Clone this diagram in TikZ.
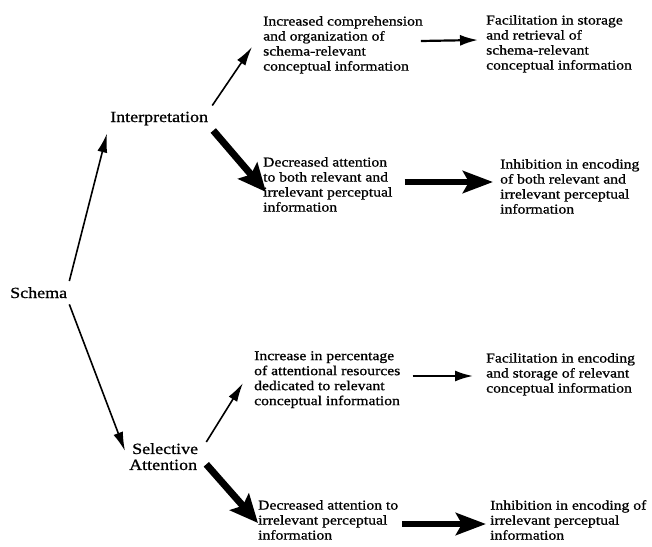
\documentclass[tikz,border=0pt]{standalone}
\usepackage{fontspec}
\setmainfont[FakeStretch=1.16,FakeBold=0.9]{Liberation Serif}
\usetikzlibrary{arrows.meta}
\begin{document}
\begin{tikzpicture}[x=1pt,y=-1pt,
  body/.style={font=\fontsize{13.5}{15}\selectfont, align=left, inner sep=0pt, anchor=north west},
  mainlbl/.style={font=\fontsize{15.5}{16}\selectfont, align=left, inner sep=0pt},
  thinarrow/.style={line width=1.6pt, -{Latex[length=19pt,width=10pt]}},
  smallarrow/.style={line width=2.2pt, -{Latex[length=18pt,width=11pt]}},
  heavyarrow/.style={line width=7pt, -{Stealth[length=28pt,width=25pt,inset=5pt]}},
  heavyharrow/.style={line width=6.5pt, -{Stealth[length=30pt,width=22pt,inset=6pt]}}]
\path[use as bounding box] (0,0) rectangle (652,546);

% main labels
\node[mainlbl, anchor=base west] (schema) at (10,298) {Schema};
\node[mainlbl, anchor=base west] (interp) at (110,122) {Interpretation};
\node[mainlbl, anchor=north west] (sel) at (129,443) {\hspace*{3pt}Selective\\Attention};

% outcome texts
\node[body] (a1) at (263,16) {Increased comprehension\\and organization of\\schema-relevant\\conceptual information};
\node[body] (a2) at (486,15) {Facilitation in storage\\and retrieval of\\schema-relevant\\conceptual information};
\node[body] (b1) at (263,157) {Decreased attention\\to both relevant and\\irrelevant perceptual\\information};
\node[body] (b2) at (500,159) {Inhibition in encoding\\of both relevant and\\irrelevant perceptual\\information};
\node[body] (c1) at (254,351) {Increase in percentage\\of attentional resources\\dedicated to relevant\\conceptual information};
\node[body] (c2) at (486,353) {Facilitation in encoding\\and storage of relevant\\conceptual information};
\node[body] (d1) at (258,500) {Decreased attention to\\irrelevant perceptual\\information};
\node[body] (d2) at (490,500) {Inhibition in encoding of\\irrelevant perceptual\\information};

% connectors
\draw[thinarrow] ([shift={(2,-6)}]schema.north east) -- ([shift={(-3,8)}]interp.south west);
\draw[thinarrow] ([shift={(2,6)}]schema.south east) -- ([shift={(-4,8)}]sel.north west);
\draw[thinarrow] ([shift={(4,-6)}]interp.north east) -- ([shift={(-11,31)}]a1.north west);
\draw[heavyarrow] ([shift={(5,5)}]interp.south east) -- ([shift={(3,35)}]b1.north west);
\draw[smallarrow] ([shift={(-2,25)}]a1.north east) -- ([shift={(-8,25)}]a2.north west);
\draw[heavyharrow] ([shift={(12,25)}]b1.north east) -- ([shift={(-7,23)}]b2.north west);
\draw[thinarrow] ([shift={(8,-1)}]sel.north east) -- ([shift={(-11,32)}]c1.north west);
\draw[heavyarrow] ([shift={(8,-6)}]sel.south east) -- ([shift={(0,23)}]d1.north west);
\draw[smallarrow] ([shift={(12,25)}]c1.north east) -- ([shift={(-13,23)}]c2.north west);
\draw[heavyharrow] ([shift={(4,24)}]d1.north east) -- ([shift={(-4,24)}]d2.north west);
\end{tikzpicture}
\end{document}
